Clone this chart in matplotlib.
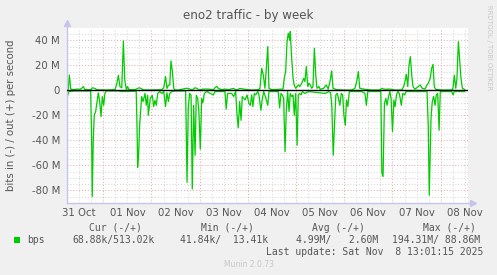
import matplotlib

matplotlib.use("Agg")
import matplotlib.pyplot as plt
import numpy as np
from matplotlib.patches import Rectangle

# hours since 31 Oct 00:00, values in Mbit/s
OUT_HOURS = [
    5.9, 6.6, 7.1, 7.8, 9.1, 10.8, 12.4, 13.2, 14.0, 14.9, 17.9, 18.5, 19.9, 20.7,
    23.2, 26.5, 29.8, 30.7, 31.5, 32.3, 33.2, 34.0, 34.7, 35.5, 36.1, 36.8, 39.8,
    41.8, 42.8, 43.9, 48.1, 53.1, 54.1, 55.0, 55.7, 56.4, 57.1, 57.7, 58.4, 59.1,
    59.7, 61.3, 65.3, 66.3, 67.3, 68.3, 69.7, 70.7, 71.6, 73.8, 76.3, 78.8, 79.6,
    80.5, 81.3, 82.9, 84.6, 86.2, 88.7, 90.4, 92.1, 94.6, 97.9, 101.2, 102.0,
    102.9, 103.7, 104.5, 105.9, 106.5, 107.8, 111.1, 113.5, 114.1, 114.8, 115.5,
    116.1, 116.8, 117.1, 117.8, 118.5, 119.1, 119.8, 121.1, 121.8, 122.8, 123.8,
    124.4, 125.1, 125.8, 126.4, 127.1, 127.8, 128.4, 129.1, 129.8, 130.4, 131.4,
    132.0, 133.7, 135.0, 136.0, 137.0, 137.7, 138.4, 140.2, 144.3, 147.7, 149.3,
    150.3, 151.0, 151.7, 154.3, 157.6, 161.8, 162.6, 163.6, 164.6, 165.9, 167.6,
    169.2, 172.6, 173.6, 174.2, 174.9, 175.6, 176.2, 176.9, 177.6, 178.2, 179.2,
    180.8, 181.8, 182.8, 184.2, 185.2, 185.8, 186.8, 187.5, 188.2, 188.8, 189.5,
    192.5, 197.5, 198.1, 198.8, 199.5, 200.1, 200.8, 201.5, 202.1, 202.8, 203.8,
]
OUT_MBITS = [
    0.5, 1.0, 12.3, 1.0, 0.5, 1.0, 0.8, 1.5, 3.0, 0.5, 0.5, 2.0, 1.5, 0.5,
    0.3, 0.3, 0.5, 5.0, 12.0, 3.0, 2.0, 39.5, 8.0, 0.5, 3.0, 0.5, 0.5,
    2.0, 1.5, 0.3, 0.3, 0.5, 2.0, 11.0, 1.5, 4.0, 4.3, 23.5, 15.0, 1.5,
    0.2, 0.2, 1.6, 1.5, 0.8, 0.3, 2.0, 1.5, 0.3, 1.0, 1.0, 0.5, 2.0,
    3.2, 1.5, 0.5, 1.0, 0.5, 1.5, 0.3, 1.5, 0.8, 0.2, 0.5, 1.6,
    17.6, 12.0, 1.6, 35.0, 1.6, 0.5, 0.8, 1.0, 9.6, 15.0, 39.0,
    45.6, 40.0, 47.0, 25.6, 9.6, 4.0, 1.6, 4.3, 3.0, 5.6, 9.6,
    7.0, 19.0, 3.0, 5.6, 4.3, 1.6, 3.0, 33.6, 12.0, 1.6, 3.0,
    0.8, 1.6, 4.3, 1.0, 8.0, 15.5, 1.6, 0.5, 0.2, 0.2, 1.6,
    8.0, 15.0, 1.6, 0.8, 0.2, 0.2, 1.6, 1.0, 0.8, 1.0, 0.8,
    0.2, 0.2, 3.0, 7.0, 12.8, 3.0, 20.0, 27.0, 12.0, 3.0, 0.8,
    3.0, 4.3, 1.6, 1.0, 4.3, 5.6, 9.6, 17.6, 20.8, 3.0, 0.8,
    0.2, 0.2, 1.6, 12.0, 1.6, 9.6, 39.0, 23.0, 9.6, 1.6, 0.8,
]

IN_HOURS = [
    5.9, 6.3, 6.9, 9.9, 14.9, 17.7, 18.2, 18.5, 19.0, 19.5, 20.2, 20.9, 21.5,
    22.2, 22.9, 23.5, 24.2, 24.8, 25.5, 31.5, 33.2, 36.4, 40.4, 40.8, 41.1, 41.6,
    42.1, 43.1, 43.8, 44.8, 45.4, 46.1, 46.4, 47.4, 48.4, 49.1, 49.7, 50.4, 51.1,
    52.1, 53.1, 54.1, 55.0, 55.7, 56.4, 57.1, 58.1, 59.7, 65.0, 65.7, 66.3, 67.0,
    67.7, 68.3, 69.0, 69.7, 70.3, 71.0, 71.6, 72.3, 73.0, 73.6, 74.3, 75.5, 78.8,
    79.6, 84.6, 85.2, 85.9, 87.9, 88.9, 89.9, 90.6, 91.2, 91.9, 92.6, 93.2, 94.6,
    95.6, 96.5, 97.2, 97.9, 98.5, 99.2, 99.9, 100.9, 101.5, 102.5, 103.2, 103.9,
    105.2, 105.9, 106.5, 111.1, 111.8, 112.5, 113.1, 113.8, 114.5, 115.1, 115.8,
    116.5, 117.1, 117.8, 118.5, 119.1, 119.8, 120.5, 121.1, 121.8, 122.5, 123.1,
    124.4, 126.1, 134.5, 136.2, 137.2, 137.8, 138.5, 139.1, 139.8, 140.5, 141.1,
    141.8, 142.5, 143.2, 143.8, 144.5, 145.1, 145.8, 146.5, 152.7, 154.3, 155.0,
    155.7, 159.7, 162.2, 162.7, 163.3, 164.0, 164.7, 165.3, 166.0, 166.7, 167.3,
    168.0, 168.7, 169.3, 170.0, 170.7, 171.4, 172.4, 173.1, 174.1, 174.7, 185.2,
    185.8, 186.3, 187.2, 187.8, 188.5, 189.2, 189.8, 190.5, 191.2, 191.8, 197.5,
    198.1, 198.8, 203.8,
]
IN_MBITS = [
    0.5, 4.0, 1.0, 0.5, 0.5, 0.5, 40.0, 85.0, 40.0, 20.0, 17.0, 9.0, 2.0,
    9.0, 21.0, 5.0, 12.0, 2.5, 0.5, 0.5, 1.0, 0.8, 0.8, 30.0, 61.6, 50.0,
    28.0, 5.0, 9.0, 2.5, 12.0, 4.0, 20.0, 6.5, 4.0, 13.0, 8.0, 12.0, 2.5,
    1.0, 2.5, 1.0, 13.0, 2.0, 9.0, 2.5, 1.0, 0.5, 0.5, 73.6, 14.5, 2.5,
    4.0, 79.0, 12.0, 52.0, 4.0, 6.5, 17.0, 47.0, 6.5, 10.0, 2.5, 1.0, 3.7,
    1.0, 1.0, 15.0, 2.5, 2.5, 5.0, 1.0, 20.0, 30.0, 9.0, 24.0, 5.0, 7.7,
    3.7, 10.5, 12.0, 3.7, 13.0, 2.5, 3.7, 1.0, 3.7, 16.0, 6.5, 1.0,
    7.7, 12.0, 1.0, 1.0, 14.0, 2.5, 3.7, 6.5, 49.0, 17.0, 1.0,
    17.0, 2.5, 5.0, 3.7, 20.0, 2.5, 44.0, 3.7, 2.5, 3.7, 1.0,
    2.5, 1.0, 2.5, 1.0, 2.0, 13.0, 52.0, 28.0, 3.7, 2.5, 6.5,
    12.0, 2.5, 3.7, 20.0, 28.0, 7.7, 13.0, 1.0, 1.0, 2.5, 12.0,
    1.0, 1.0, 1.0, 66.0, 69.0, 10.5, 6.5, 12.0, 5.0, 1.0, 6.5,
    33.0, 7.7, 13.0, 3.7, 1.0, 2.5, 12.0, 2.5, 3.7, 1.0, 1.0,
    28.0, 84.0, 22.0, 9.0, 5.0, 12.0, 3.7, 2.5, 32.0, 1.0, 1.0,
    3.7, 1.0, 1.0,
]

DAY_LABELS = ["31 Oct", "01 Nov", "02 Nov", "03 Nov", "04 Nov",
              "05 Nov", "06 Nov", "07 Nov", "08 Nov"]
Y_MAJOR = [-80, -60, -40, -20, 0, 20, 40]

GREEN = "#00CC00"
TXT = "#555555"
AXIS = "#c4c4ec"
W, H = 497, 275


def fx(px):
    return px / W


def fy(py):
    return 1 - py / H


fig = plt.figure(figsize=(W / 100, H / 100), dpi=100, facecolor="#F0F0F0")
ax = fig.add_axes([fx(67), fy(202.8), fx(468 - 67), (202.8 - 27.8) / H])
ax.set_facecolor("white")
ax.set_xlim(5.93, 205.6)
ax.set_ylim(-90, 50)

# grid lines: gray minor, red major
for h in np.arange(6, 205, 6):
    if h % 24:
        ax.axvline(h, color="#d4d4d4", lw=0.7, ls=(0, (1, 2)), zorder=0)
for v in np.arange(-85, 50, 5):
    if v % 20:
        ax.axhline(v, color="#d4d4d4", lw=0.7, ls=(0, (1, 2)), zorder=0)
for h in np.arange(24, 205, 24):
    ax.axvline(h, color="#e8a4a4", lw=0.7, ls=(0, (1, 2)), zorder=0.5)
for v in Y_MAJOR:
    ax.axhline(v, color="#e8a4a4", lw=0.7, ls=(0, (1, 2)), zorder=0.5)

ax.plot(OUT_HOURS, OUT_MBITS, color=GREEN, lw=0.9, zorder=2)
ax.plot(IN_HOURS, -np.array(IN_MBITS), color=GREEN, lw=0.9, zorder=2)
ax.axhline(0, color="black", lw=1.0, zorder=3)

for s in ax.spines.values():
    s.set_visible(False)
ax.plot([0, 0], [0, 1.02], transform=ax.transAxes, color=AXIS, lw=1.0, clip_on=False)
ax.plot([0, 1.01], [0, 0], transform=ax.transAxes, color=AXIS, lw=1.0, clip_on=False)
ax.plot([0], [1.025], marker="^", ms=5, color=AXIS, transform=ax.transAxes, clip_on=False)
ax.plot([1.012], [0], marker=">", ms=5, color=AXIS, transform=ax.transAxes, clip_on=False)

ax.set_yticks(Y_MAJOR, [f"{v} M" if v else "0" for v in Y_MAJOR])
ax.set_xticks(np.arange(12, 205, 24), DAY_LABELS)
ax.tick_params(length=0, labelsize=7.3, labelcolor=TXT, pad=5)
ax.tick_params(axis="x", pad=4)
ax.set_ylabel("bits in (-) / out (+) per second", fontsize=7.3, color=TXT)
ax.yaxis.set_label_coords((16.5 - 67) / 401, 0.5)

fig.text(0.5, fy(15), "eno2 traffic - by week", ha="center", va="center",
         fontsize=8.6, color=TXT)
fig.text(fx(488.5), fy(5), "RRDTOOL / TOBI OETIKER", rotation=270, ha="center",
         va="top", fontsize=4.8, color="#c8c8c8")

mono = dict(family="DejaVu Sans Mono", fontsize=7.05, color=TXT, va="center")
fig.text(fx(89), fy(227.7), "Cur (-/+)", **mono)
fig.text(fx(201), fy(227.7), "Min (-/+)", **mono)
fig.text(fx(312), fy(227.7), "Avg (-/+)", **mono)
fig.text(fx(423), fy(227.7), "Max (-/+)", **mono)
fig.patches.append(Rectangle((fx(14), fy(243)), 6 / W, 6 / H, transform=fig.transFigure,
                             facecolor=GREEN, edgecolor="none"))
fig.text(fx(27), fy(240), "bps", **mono)
fig.text(fx(72), fy(240), "68.88k/513.02k", **mono)
fig.text(fx(180), fy(240), "41.84k/  13.41k", **mono)
fig.text(fx(296), fy(240), "4.99M/   2.60M", **mono)
fig.text(fx(392), fy(240), "194.31M/ 88.86M", **mono)
fig.text(fx(483), fy(251.7), "Last update: Sat Nov  8 13:01:15 2025", ha="right",
         family="DejaVu Sans Mono", fontsize=7.05, color=TXT, va="center")
fig.text(0.5, fy(264.3), "Munin 2.0.73", ha="center", va="center", fontsize=5.5,
         color="#c8c8c8")

fig.savefig("out.png", dpi=100, facecolor=fig.get_facecolor())
